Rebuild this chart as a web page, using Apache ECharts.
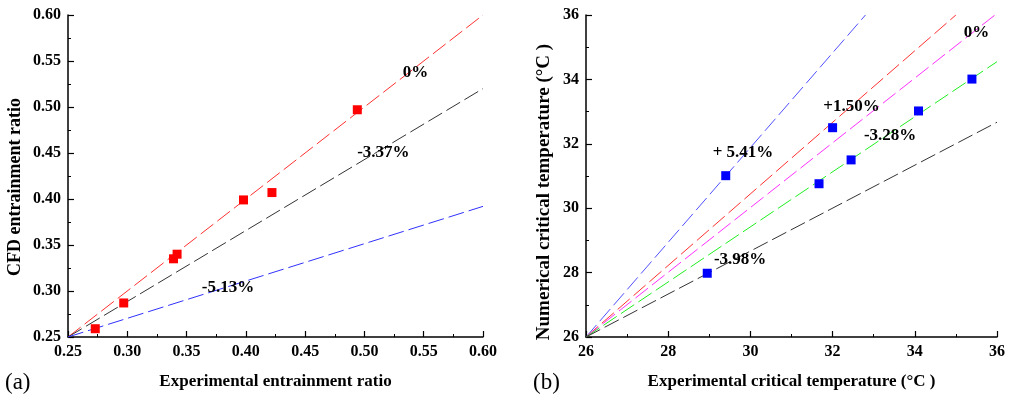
<!DOCTYPE html>
<html><head><meta charset="utf-8">
<script src="https://cdn.jsdelivr.net/npm/echarts@6/dist/echarts.min.js"></script>
<style>html,body{margin:0;padding:0;background:#fff}#c{width:1010px;height:400px}</style>
</head><body><div id="c"></div>
<script>
// ---- Panel (a) data ----
const aExpX = [0.273, 0.297, 0.339, 0.342, 0.398, 0.422, 0.494];
const aCfdY = [0.259, 0.287, 0.335, 0.340, 0.399, 0.407, 0.497];
const aLine0 = [[0.25, 0.25], [0.60, 0.60]];
const aLineM337 = [[0.25, 0.25], [0.60, 0.520]];
const aLineM513 = [[0.25, 0.25], [0.60, 0.392]];
const aLabels = ['0%', '-3.37%', '-5.13%'];
const aLabelPos = [[0.543, 0.537], [0.516, 0.450], [0.385, 0.304]];

// ---- Panel (b) data ----
const bExpX = [28.95, 29.40, 31.67, 32.00, 32.45, 34.09, 35.39];
const bNumY = [27.98, 31.01, 30.76, 32.50, 31.50, 33.02, 34.01];
const bLineP541 = [[26, 26], [32.8, 36]];
const bLineP150 = [[26, 26], [35.0, 36]];
const bLine0 = [[26, 26], [35.95, 36]];
const bLineM328 = [[26, 26], [36, 34.55]];
const bLineM398 = [[26, 26], [36, 32.67]];
const bLabels = ['+ 5.41%', '+1.50%', '0%', '-3.28%', '-3.98%'];
const bLabelPos = [[29.82, 31.72], [32.46, 33.17], [35.5, 35.45], [33.4, 32.24], [29.75, 28.41]];

const FONT = 'Liberation Serif';
const tickLbl = {color: '#000', fontFamily: FONT, fontWeight: 'bold', fontSize: 16};

function axis(idx, min, max, interval, fmt, name, gap, nameSize, pad) {
  return {
    type: 'value', gridIndex: idx, min, max, interval,
    name, nameLocation: 'middle', nameGap: gap,
    nameTextStyle: {color: '#000', fontFamily: FONT, fontWeight: 'bold', fontSize: nameSize, padding: pad},
    axisLine: {show: true, onZero: false, lineStyle: {color: '#000', width: 1.5}},
    axisTick: {show: true, inside: true, length: 6, lineStyle: {color: '#000', width: 1.2}},
    minorTick: {show: true, splitNumber: 2, length: 3, lineStyle: {color: '#000', width: 1}},
    splitLine: {show: false},
    axisLabel: Object.assign({formatter: fmt, margin: 7}, tickLbl)
  };
}

function dashLine(data, color, xi, yi) {
  return {type: 'line', xAxisIndex: xi, yAxisIndex: yi, data, symbol: 'none', silent: true,
    lineStyle: {color, width: 1, type: [16, 5]}, z: 2};
}
function labels(texts, pos, xi, yi) {
  return {type: 'scatter', xAxisIndex: xi, yAxisIndex: yi, symbolSize: 0, silent: true, z: 5,
    itemStyle: {opacity: 1},
    data: pos.map((p, i) => ({value: p, name: texts[i]})),
    label: {show: true, position: 'inside', formatter: p => p.name, color: '#000',
      textBorderWidth: 0, textBorderColor: 'transparent',
      fontFamily: FONT, fontWeight: 'bold', fontSize: 17}};
}

const chart = echarts.init(document.getElementById('c'), null, {renderer: 'canvas'});
chart.setOption({
  animation: false,
  backgroundColor: '#fff',
  grid: [
    {left: 68, top: 15, width: 415, height: 322},
    {left: 586, top: 15, width: 411, height: 322}
  ],
  xAxis: [
    axis(0, 0.25, 0.60, 0.05, v => v.toFixed(2), 'Experimental entrainment ratio', 36, 17, 0),
    axis(1, 26, 36, 2, v => String(v), 'Experimental critical temperature (°C )', 36, 17, 0)
  ],
  yAxis: [
    axis(0, 0.25, 0.60, 0.05, v => v.toFixed(2), 'CFD entrainment ratio', 44, 18, [0, 22, 0, 0]),
    axis(1, 26, 36, 2, v => String(v), 'Numerical critical temperature (°C )', 32, 19, [0, 32, 0, 0])
  ],
  graphic: [
    {type: 'text', left: 5, top: 371, style: {text: '(a)', font: '23px "Liberation Serif"', fill: '#000'}},
    {type: 'text', left: 533, top: 371, style: {text: '(b)', font: '23px "Liberation Serif"', fill: '#000'}}
  ],
  series: [
    dashLine(aLine0, '#ff3030', 0, 0),
    dashLine(aLineM337, '#333333', 0, 0),
    dashLine(aLineM513, '#3030ff', 0, 0),
    {type: 'scatter', xAxisIndex: 0, yAxisIndex: 0, symbol: 'rect', symbolSize: 9, z: 4,
      itemStyle: {color: '#ff0000', opacity: 1}, data: aExpX.map((x, i) => [x, aCfdY[i]])},
    labels(aLabels, aLabelPos, 0, 0),

    dashLine(bLineP541, '#5050ff', 1, 1),
    dashLine(bLineP150, '#ff3030', 1, 1),
    dashLine(bLine0, '#ff30ff', 1, 1),
    dashLine(bLineM328, '#20ee20', 1, 1),
    dashLine(bLineM398, '#333333', 1, 1),
    {type: 'scatter', xAxisIndex: 1, yAxisIndex: 1, symbol: 'rect', symbolSize: 9, z: 4,
      itemStyle: {color: '#0000ff', opacity: 1}, data: bExpX.map((x, i) => [x, bNumY[i]])},
    labels(bLabels, bLabelPos, 1, 1)
  ]
});
</script></body></html>
